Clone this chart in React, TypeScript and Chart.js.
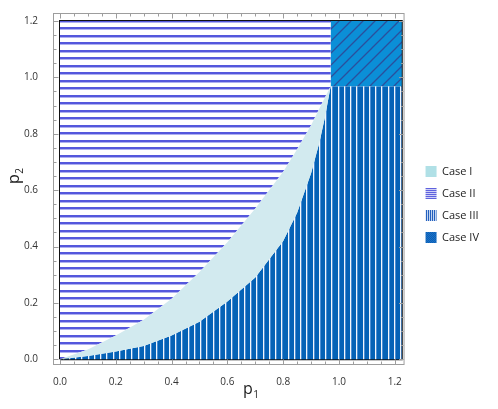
import React, { useEffect, useRef } from 'react';
import { Chart, registerables } from 'chart.js';

Chart.register(...registerables);

// ---- data ----
const caseLabels = ['Case I', 'Case II', 'Case III', 'Case IV'];

// upper boundary curve (Case II / Case I)
const upperP1 = [0, 0.1, 0.2, 0.3, 0.4, 0.5, 0.6, 0.7, 0.8, 0.85, 0.9, 0.94, 0.97];
const upperP2 = [0, 0.035, 0.085, 0.14, 0.215, 0.31, 0.415, 0.535, 0.665, 0.745, 0.83, 0.91, 0.967];

// lower boundary curve (Case I / Case III)
const lowerP1 = [0, 0.1, 0.2, 0.3, 0.4, 0.5, 0.6, 0.7, 0.8, 0.85, 0.9, 0.93, 0.95, 0.97];
const lowerP2 = [0, 0.012, 0.028, 0.047, 0.085, 0.133, 0.205, 0.29, 0.42, 0.52, 0.66, 0.77, 0.86, 0.967];

// corner of Case IV and plot region limits
const cornerP1 = 0.97;
const cornerP2 = 0.967;
const p1Max = 1.225;
const p2Max = 1.2;

// ticks
const minorTicks = [0, 0.05, 0.1, 0.15, 0.2, 0.25, 0.3, 0.35, 0.4, 0.45, 0.5, 0.55, 0.6, 0.65, 0.7, 0.75, 0.8, 0.85, 0.9, 0.95, 1.0, 1.05, 1.1, 1.15, 1.2];
const majorTickValues = [0, 0.2, 0.4, 0.6, 0.8, 1.0, 1.2];
const majorTickLabels = ['0.0', '0.2', '0.4', '0.6', '0.8', '1.0', '1.2'];

const FONT = '"Open Sans", "DejaVu Sans", sans-serif';

function labelFor(v: number): string {
  const i = majorTickValues.findIndex((m) => Math.abs(m - v) < 1e-6);
  return i >= 0 ? majorTickLabels[i] : '';
}

function makePattern(w: number, h: number, draw: (g: CanvasRenderingContext2D) => void): CanvasPattern {
  const c = document.createElement('canvas');
  c.width = w;
  c.height = h;
  const g = c.getContext('2d')!;
  draw(g);
  return g.createPattern(c, 'repeat')!;
}

export default function App() {
  const ref = useRef<HTMLCanvasElement | null>(null);

  useEffect(() => {
    document.body.style.margin = '0';
    const canvas = ref.current!;

    const caseIFill = '#d2eaef';
    const caseIIFill = makePattern(4, 15, (g) => {
      g.fillStyle = '#ffffff';
      g.fillRect(0, 0, 4, 15);
      g.fillStyle = '#5457dc';
      g.fillRect(0, 5, 4, 2);
      g.fillRect(0, 12, 4, 2);
      g.fillStyle = '#aeb0f0';
      g.fillRect(0, 7, 4, 1);
      g.fillRect(0, 14, 4, 1);
    });
    const caseIIIFill = makePattern(25, 4, (g) => {
      g.fillStyle = '#0562b6';
      g.fillRect(0, 0, 25, 4);
      [0, 6, 13, 19].forEach((c) => {
        g.fillStyle = '#f2f6fc';
        g.fillRect(c, 0, 1, 4);
        g.fillStyle = '#4d8fd4';
        g.fillRect(c + 1, 0, 1, 4);
      });
    });
    const caseIVFill = makePattern(12, 12, (g) => {
      g.fillStyle = '#0b8fd7';
      g.fillRect(0, 0, 12, 12);
      g.strokeStyle = '#2b4f9c';
      g.lineWidth = 1.3;
      g.beginPath();
      g.moveTo(-1, 13); g.lineTo(13, -1);
      g.moveTo(-1, 1); g.lineTo(1, -1);
      g.moveTo(11, 13); g.lineTo(13, 11);
      g.stroke();
    });

    const legendFills = [
      '#b0e0e6',
      makePattern(1, 2, (g) => { g.fillStyle = '#cfd0f6'; g.fillRect(0, 0, 1, 2); g.fillStyle = '#5f62de'; g.fillRect(0, 0, 1, 1); }),
      makePattern(2, 1, (g) => { g.fillStyle = '#c4d6f0'; g.fillRect(0, 0, 2, 1); g.fillStyle = '#2460be'; g.fillRect(0, 0, 1, 1); }),
      makePattern(2, 2, (g) => { g.fillStyle = '#1a72c8'; g.fillRect(0, 0, 2, 2); g.fillStyle = '#0e5fb4'; g.fillRect(0, 0, 1, 1); g.fillRect(1, 1, 1, 1); }),
    ];

    const upper = upperP1.map((x, i) => ({ x, y: upperP2[i] }));
    const lower = lowerP1.map((x, i) => ({ x, y: lowerP2[i] }));

    const caseI = [...upper, ...lower.slice().reverse()];
    const caseII = [...upper, { x: cornerP1, y: p2Max }, { x: 0, y: p2Max }];
    const caseIII = [...lower, { x: p1Max, y: cornerP2 }, { x: p1Max, y: 0 }];
    const caseIV = [
      { x: cornerP1, y: cornerP2 },
      { x: p1Max, y: cornerP2 },
      { x: p1Max, y: p2Max },
      { x: cornerP1, y: p2Max },
    ];
    const frame = [
      { x: 0, y: 0 },
      { x: p1Max, y: 0 },
      { x: p1Max, y: p2Max },
      { x: 0, y: p2Max },
      { x: 0, y: 0 },
    ];

    const region = (label: string, data: any[], bg: any) => ({
      label,
      data,
      showLine: true,
      fill: 'shape' as const,
      backgroundColor: bg,
      borderColor: 'rgba(0,0,0,0)',
      borderWidth: 0,
      pointRadius: 0,
      tension: 0,
    });

    const frameTicks = {
      id: 'frameTicks',
      afterDraw(chart: any) {
        const { ctx, chartArea: a, scales } = chart;
        ctx.save();
        ctx.strokeStyle = '#9d9d9d';
        ctx.lineWidth = 1;
        ctx.strokeRect(a.left + 0.5, a.top + 0.5, a.right - a.left - 1, a.bottom - a.top - 1);
        ctx.beginPath();
        minorTicks.forEach((v) => {
          const L = labelFor(v) ? 4.5 : 2.5;
          const px = Math.round(scales.x.getPixelForValue(v)) + 0.5;
          ctx.moveTo(px, a.bottom - 1);
          ctx.lineTo(px, a.bottom - 1 - L);
          ctx.moveTo(px, a.top + 1);
          ctx.lineTo(px, a.top + 1 + L);
          const py = Math.round(scales.y.getPixelForValue(v)) + 0.5;
          ctx.moveTo(a.left + 1, py);
          ctx.lineTo(a.left + 1 + L, py);
          ctx.moveTo(a.right - 1, py);
          ctx.lineTo(a.right - 1 - L, py);
        });
        ctx.stroke();

        // axis titles
        ctx.fillStyle = '#222';
        ctx.textBaseline = 'alphabetic';
        ctx.textAlign = 'left';
        const drawTitle = (main: string, sub: string, x: number, y: number) => {
          ctx.font = `16px ${FONT}`;
          const w = ctx.measureText(main).width;
          ctx.fillText(main, x, y);
          ctx.font = `10px ${FONT}`;
          ctx.fillText(sub, x + w + 0.5, y + 3.5);
        };
        drawTitle('p', '1', 243, 394);
        ctx.save();
        ctx.translate(19, 184);
        ctx.rotate(-Math.PI / 2);
        drawTitle('p', '2', 0, 0);
        ctx.restore();
        ctx.restore();
      },
    };

    const tickFont = { family: FONT, size: 10 };

    const chart = new Chart(canvas, {
      type: 'scatter',
      data: {
        datasets: [
          region(caseLabels[0], caseI, caseIFill),
          region(caseLabels[1], caseII, caseIIFill),
          region(caseLabels[2], caseIII, caseIIIFill),
          region(caseLabels[3], caseIV, caseIVFill),
          {
            label: 'frame',
            data: frame,
            showLine: true,
            fill: false,
            borderColor: '#111',
            borderWidth: 2,
            pointRadius: 0,
          } as any,
        ],
      },
      options: {
        responsive: false,
        animation: false,
        events: [],
        devicePixelRatio: 1,
        layout: { padding: { top: 10, left: 0, bottom: 0, right: 9 } },
        scales: {
          x: {
            type: 'linear',
            min: -0.025,
            max: 1.235,
            afterBuildTicks: (s: any) => { s.ticks = minorTicks.map((v) => ({ value: v })); },
            afterFit: (s: any) => { s.height = 44; },
            grid: { display: false },
            border: { display: false },
            ticks: {
              autoSkip: false,
              maxRotation: 0,
              padding: 3,
              color: '#333',
              font: tickFont,
              callback: (v: any) => labelFor(Number(v)),
            },
          },
          y: {
            type: 'linear',
            min: -0.02,
            max: 1.228,
            afterBuildTicks: (s: any) => { s.ticks = minorTicks.map((v) => ({ value: v })); },
            afterFit: (s: any) => { s.width = 53; },
            grid: { display: false },
            border: { display: false },
            ticks: {
              autoSkip: false,
              padding: 7,
              color: '#333',
              font: tickFont,
              callback: (v: any) => labelFor(Number(v)),
            },
          },
          y2: {
            type: 'linear',
            position: 'right',
            display: true,
            afterFit: (s: any) => { s.width = 10; },
            grid: { display: false },
            border: { display: false },
            ticks: { display: false },
          },
        },
        plugins: {
          tooltip: { enabled: false },
          legend: {
            position: 'right',
            align: 'start',
            title: { display: true, text: ' ', padding: { top: 133, bottom: 0 }, font: { size: 10 } },
            labels: {
              boxWidth: 11,
              boxHeight: 11,
              padding: 11,
              color: '#222',
              font: { family: FONT, size: 11 },
              generateLabels: () =>
                caseLabels.map((t, i) => ({
                  text: t,
                  fillStyle: legendFills[i] as any,
                  strokeStyle: 'rgba(0,0,0,0)',
                  fontColor: '#222',
                  lineWidth: 0,
                  hidden: false,
                  datasetIndex: i,
                })),
            },
          },
        },
      } as any,
      plugins: [frameTicks],
    });

    return () => chart.destroy();
  }, []);

  return (
    <div style={{ width: 498, height: 409 }}>
      <canvas ref={ref} width={498} height={409} style={{ display: 'block' }} />
    </div>
  );
}
